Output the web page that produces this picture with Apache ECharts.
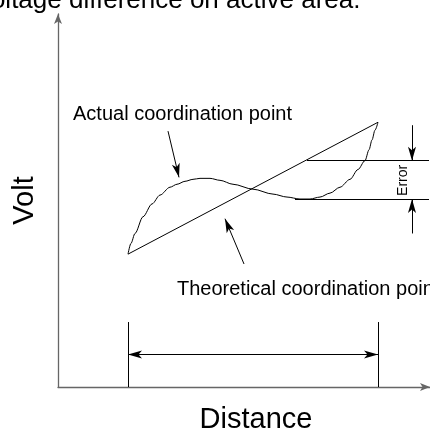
<!DOCTYPE html>
<html>
<head>
    <meta charset="utf-8">
    <title>Volt vs distance</title>
    <script src="https://cdn.jsdelivr.net/npm/echarts@6/dist/echarts.min.js"></script>
    <style>
        html, body { margin: 0; padding: 0; background: #fff; }
        #main { width: 430px; height: 439px; }
    </style>
</head>
<body>
<div id="main"></div>
<script type="text/javascript">
    // values are in drawing units: x = distance from the volt axis, y = height above the distance axis
    var actualCurve = [
        [70, 135], [73, 146], [77, 156], [85, 173], [94, 186], [102, 195], [112, 203],
        [119, 206], [127, 209], [135, 211], [142, 212], [152, 212], [162, 210], [175, 206],
        [195, 201], [215, 196], [229, 193], [242, 191], [252, 191], [262, 193], [272, 197],
        [282, 203], [292, 211], [300, 221], [307, 230], [311, 241], [314, 251], [317, 261], [320, 269]
    ];
    var theoreticalLine = [[70, 135], [320, 269]];
    var plainSegments = [
        [[70, 0], [70, 66]],
        [[320, 0], [320, 66]],
        [[249, 230], [371, 230]],
        [[237, 191], [371, 191]]
    ];
    var spanSegments = [[[70, 33], [320, 33]]];
    var pointerSegments = [
        [[110, 260], [121, 213]],
        [[186, 125], [167, 171]],
        [[354, 266], [354, 230]],
        [[354, 156], [354, 191]]
    ];
    var titleText = 'Voltage difference on active area.';
    var xName = 'Distance';
    var yName = 'Volt';
    var actualLabel = 'Actual coordination point';
    var theoreticalLabel = 'Theoretical coordination point';
    var errorLabel = 'Error';

    var chart = echarts.init(document.getElementById('main'));
    var font = 'Liberation Sans';

    function segmentSeries(list, symbols) {
        return {
            type: 'line', data: [], symbol: 'none', silent: true,
            markLine: {
                silent: true, animation: false,
                symbol: symbols, symbolSize: [6, 14],
                label: { show: false },
                lineStyle: { color: '#000', width: 1, type: 'solid' },
                data: list.map(function (s) {
                    return [{ coord: s[0] }, { coord: s[1] }];
                })
            }
        };
    }

    var option = {
        animation: false,
        title: {
            text: titleText, left: -25, top: -12, padding: 0,
            textStyle: { fontFamily: font, fontSize: 26, fontWeight: 'normal', color: '#000' }
        },
        grid: { left: 58, right: 0, top: 14, bottom: 46 },
        xAxis: {
            type: 'value', min: 0, max: 372,
            name: xName, nameLocation: 'middle', nameGap: 18,
            nameTextStyle: { fontFamily: font, fontSize: 29, color: '#000', padding: [0, 0, 0, 24] },
            axisLine: { show: true, lineStyle: { color: '#666', width: 1.3 }, symbol: ['none', 'arrow'], symbolSize: [6, 10] },
            axisTick: { show: false }, axisLabel: { show: false }, splitLine: { show: false }
        },
        yAxis: {
            type: 'value', min: 0, max: 379,
            name: yName, nameLocation: 'middle', nameGap: 19, nameRotate: 90,
            nameTextStyle: { fontFamily: font, fontSize: 29, color: '#000' },
            axisLine: { show: true, lineStyle: { color: '#666', width: 1.3 }, symbol: ['none', 'arrow'], symbolSize: [6, 10] },
            axisTick: { show: false }, axisLabel: { show: false }, splitLine: { show: false }
        },
        series: [
            {
                type: 'line', data: actualCurve, smooth: 0.3, smoothMonotone: 'x', symbol: 'none', silent: true,
                lineStyle: { color: '#000', width: 1 }
            },
            {
                type: 'line', data: theoreticalLine, symbol: 'none', silent: true,
                lineStyle: { color: '#000', width: 1 },
                markPoint: {
                    silent: true, animation: false, symbol: 'circle', symbolSize: 0,
                    label: { show: true, formatter: '{b}', color: '#000', fontFamily: font, fontSize: 20, position: 'right', distance: 0 },
                    data: [
                        { name: actualLabel, coord: [15, 277] },
                        { name: theoreticalLabel, coord: [119, 99] },
                        { name: errorLabel, coord: [345, 210], label: { fontSize: 14, rotate: 90, position: 'inside' } }
                    ]
                }
            },
            segmentSeries(plainSegments, ['none', 'none']),
            segmentSeries(spanSegments, ['arrow', 'arrow']),
            segmentSeries(pointerSegments, ['none', 'arrow'])
        ]
    };
    chart.setOption(option);
</script>
</body>
</html>
